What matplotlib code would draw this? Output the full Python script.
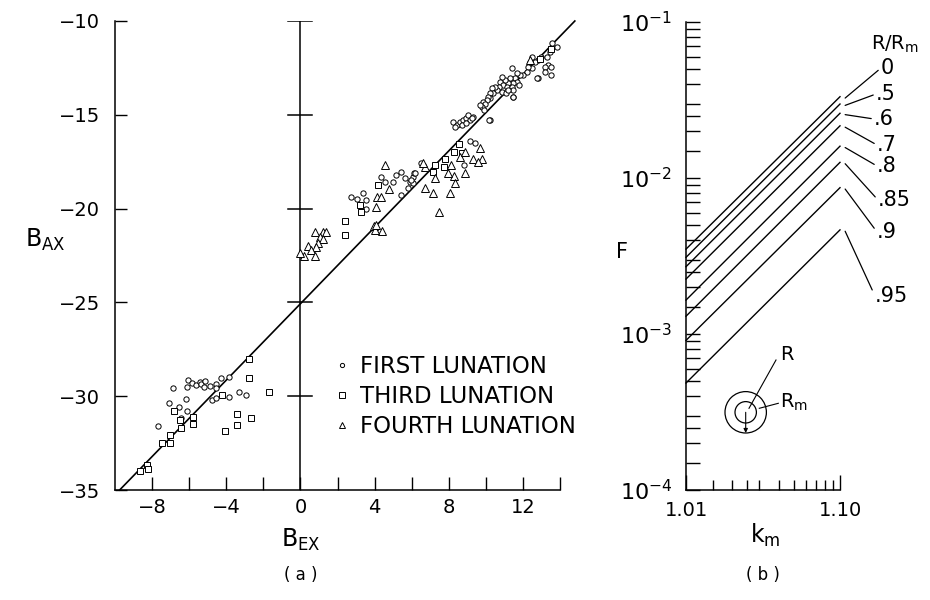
import numpy as np
import matplotlib
matplotlib.use("Agg")
import matplotlib.pyplot as plt
from matplotlib.ticker import FixedLocator, NullFormatter, FixedFormatter
from matplotlib.patches import Circle
from matplotlib.lines import Line2D

plt.rcParams['font.family'] = ['DejaVu Sans']
plt.rcParams['mathtext.fontset'] = 'dejavusans'

# ---------------- Panel (a) data ----------------
first_x = [-6.88, -6.05, -5.85, -6.09, -5.64, -5.44, -5.34, -5.15, -5.19, -4.86, -4.56, -4.29, -4.54,
           -4.76, -4.56, -3.84, -3.30, -2.94, -3.84, -6.18, -7.08, -6.54, -6.09, -6.45, -7.68,
           2.74, 3.04, 3.37, 3.55, 3.28, 3.55, 4.36, 4.58, 4.99, 5.17, 5.44, 5.62, 5.41, 5.89, 6.07,
           5.80, 6.12, 6.07, 5.98, 6.52, 6.16,
           9.14, 9.41, 8.83,
           8.24, 8.42, 8.59, 8.77, 8.95, 9.14, 9.32, 8.32, 8.72, 8.92, 9.05, 10.22, 9.23,
           14.36, 13.86, 13.55, 13.46, 13.28, 13.37, 13.50, 13.19, 13.50, 13.19, 12.96, 12.83, 12.65,
           12.47, 12.38, 12.47, 12.29, 12.20, 12.83, 11.39, 12.02, 11.84, 11.66, 11.57, 11.70, 11.48,
           11.30, 11.21, 11.03, 10.85, 10.79, 10.94, 11.12, 11.39, 11.48, 11.80, 10.72, 10.61, 10.85,
           11.08, 11.21, 11.48, 10.49, 10.31, 10.40, 10.22, 10.25, 10.12, 10.04, 9.85, 9.95, 9.77,
           9.68, 9.89, 10.18, 12.74, 11.44]
first_y = [-29.55, -29.14, -29.31, -29.53, -29.40, -29.26, -29.35, -29.17, -29.53, -29.46, -29.35, -29.05, -29.58,
           -30.20, -30.11, -30.03, -29.76, -29.94, -28.96, -30.15, -30.38, -30.59, -30.79, -31.15, -31.57,
           -19.36, -19.50, -19.18, -19.54, -19.98, -20.04, -18.30, -18.58, -18.60, -18.21, -18.03, -18.38, -19.28, -18.57, -18.30,
           -18.92, -18.08, -18.65, -18.48, -17.59, -18.12,
           -16.38, -16.52, -17.68,
           -15.37, -15.54, -15.37, -15.28, -15.19, -15.28, -15.10, -15.63, -15.54, -15.46, -15.00, -15.28, -15.19,
           -10.66, -11.37, -11.19, -11.63, -11.90, -12.35, -12.43, -12.43, -12.88, -12.70, -11.90, -12.08, -12.17,
           -11.90, -12.17, -12.52, -12.43, -12.70, -13.06, -12.52, -12.88, -12.88, -12.79, -13.06, -13.23, -13.32,
           -13.06, -13.32, -13.15, -12.97, -13.23, -13.41, -13.50, -13.50, -13.68, -13.41, -13.50, -13.68, -13.77,
           -13.86, -13.68, -14.04, -13.50, -13.59, -13.86, -13.86, -14.12, -14.04, -14.21, -14.34, -14.44, -14.57,
           -14.48, -14.74, -15.28, -13.06, -14.04]

third_x = [-2.76, -2.76, -1.68, -4.25, -6.81, -6.49, -5.78, -5.78, -6.45, -3.44, -2.66, -3.44, -4.05,
           -7.03, -7.03, -7.48, -8.25, -8.22, -8.65,
           3.19, 3.28, 4.18, 2.38, 2.38, 7.78, 8.27, 8.56, 7.24, 7.15, 7.73, 8.74,
           13.50, 12.90]
third_y = [-28.03, -29.05, -29.76, -29.95, -30.77, -31.27, -31.09, -31.48, -31.71, -30.95, -31.18, -31.54, -31.84,
           -32.08, -32.48, -32.48, -33.67, -33.90, -33.99,
           -19.81, -20.17, -18.74, -20.64, -21.41, -17.37, -16.97, -16.56, -17.68, -18.03, -17.77, -17.02,
           -11.50, -12.00]

fourth_x = [0.76, 1.21, 1.39, 1.08, 1.21, 0.97, 0.85, 0.40, 0.58, 0.76, 0.22, 0.00,
            4.54, 4.14, 4.32, 4.09, 4.77, 3.96, 4.40, 4.00, 4.05,
            9.68, 9.31, 9.80, 9.59, 8.86, 8.29, 8.36, 7.96, 8.11, 7.28, 6.74, 7.15, 8.05, 7.46,
            6.70, 6.61, 8.59, 8.86, 12.40]
fourth_y = [-21.23, -21.23, -21.23, -21.53, -21.64, -21.82, -22.03, -21.99, -22.21, -22.53, -22.53, -22.38,
            -17.68, -19.40, -19.40, -19.90, -18.97, -20.93, -21.19, -21.14, -20.88,
            -16.79, -17.37, -17.37, -17.50, -18.08, -18.26, -18.62, -18.08, -17.68, -18.38, -18.92, -19.15, -19.15, -20.17,
            -17.77, -17.59, -17.23, -16.97, -12.10]

fit_x = [-9.75, 14.8]
fit_y = [-35.0, -10.0]

series_labels = ["FIRST LUNATION", "THIRD LUNATION", "FOURTH LUNATION"]
ax_a_yticks = [-10, -15, -20, -25, -30, -35]
ax_a_xticklabels = [-8, -4, 0, 4, 8, 12]

# ---------------- Panel (b) data ----------------
ratio_labels = ["0", ".5", ".6", ".7", ".8", ".85", ".9", ".95"]
km_minus_1 = [0.01, 0.10]
F_left = [3.5e-3, 3.1e-3, 2.7e-3, 2.25e-3, 1.65e-3, 1.30e-3, 9.1e-4, 4.85e-4]
F_right = [3.32e-2, 2.98e-2, 2.60e-2, 2.16e-2, 1.60e-2, 1.26e-2, 8.67e-3, 4.65e-3]

W, H = 930, 600
fig = plt.figure(figsize=(W / 100, H / 100), dpi=100)

def fr(x0, y0, x1, y1):
    return [x0 / W, 1 - y1 / H, (x1 - x0) / W, (y1 - y0) / H]

# ================= Panel (a) =================
ax = fig.add_axes(fr(115, 21, 560, 490))
ax.set_xlim(-10, 14)
ax.set_ylim(-35, -10)
for s in ['top', 'right']:
    ax.spines[s].set_visible(False)
for s in ['left', 'bottom']:
    ax.spines[s].set_linewidth(1.1)

mk = dict(linestyle='none', markerfacecolor='white', markeredgecolor='black', markeredgewidth=0.7)
h1, = ax.plot(first_x, first_y, marker='o', markersize=3.8, label=series_labels[0], **mk)
h2, = ax.plot(third_x, third_y, marker='s', markersize=5.0, label=series_labels[1], **mk)
h3, = ax.plot(fourth_x, fourth_y, marker='^', markersize=5.8, label=series_labels[2], **mk)

ax.plot(fit_x, fit_y, color='black', lw=1.2, clip_on=False, zorder=1)

# central vertical axis at B_EX = 0 with crossing ticks
ax.plot([0, 0], [-35, -10], color='black', lw=1.1, zorder=1)
for yv in ax_a_yticks[:-1]:
    ax.plot([-0.65, 0.65], [yv, yv], color='black', lw=1.1, zorder=1)

ax.set_yticks(ax_a_yticks)
ax.set_yticklabels([f"\u2212{abs(v)}" for v in ax_a_yticks])
ax.set_xticks(np.arange(-8, 15, 2))
ax.set_xticklabels([(f"\u2212{abs(v)}" if v < 0 else str(v)) if v in ax_a_xticklabels else "" for v in np.arange(-8, 15, 2)])
ax.tick_params(axis='y', direction='in', length=8.5, width=1.0, labelsize=14, pad=11)
ax.tick_params(axis='x', direction='in', length=9.5, width=1.0, labelsize=14, pad=6)

leg = ax.legend(handles=[h1, h2, h3], loc='upper left', bbox_to_anchor=(0.47, 0.312),
                frameon=False, fontsize=16.5, handlelength=0.6, handletextpad=0.45,
                labelspacing=0.3, borderpad=0, markerscale=0.8)

fig.text(301 / W, 1 - 540 / H, r"B$_{\mathrm{EX}}$", fontsize=17, ha='center', va='center')
fig.text(45 / W, 1 - 240 / H, r"B$_{\mathrm{AX}}$", fontsize=17, ha='center', va='center')
fig.text(301 / W, 1 - 575 / H, "( a )", fontsize=12, ha='center', va='center')

# ================= Panel (b) =================
bx = fig.add_axes(fr(686, 22, 840, 490))
bx.set_xscale('log')
bx.set_yscale('log')
bx.set_xlim(0.01, 0.1)
bx.set_ylim(1e-4, 1e-1)
for s in ['top', 'right']:
    bx.spines[s].set_visible(False)
for s in ['left', 'bottom']:
    bx.spines[s].set_linewidth(1.1)

for fl, frt in zip(F_left, F_right):
    bx.plot(km_minus_1, [fl, frt], color='black', lw=1.0, clip_on=False)

bx.xaxis.set_major_locator(FixedLocator([0.01, 0.1]))
bx.xaxis.set_major_formatter(FixedFormatter(["1.01", "1.10"]))
bx.xaxis.set_minor_locator(FixedLocator([0.015, 0.02, 0.025, 0.03, 0.04, 0.05, 0.06, 0.07, 0.08, 0.09]))
bx.xaxis.set_minor_formatter(NullFormatter())
bx.yaxis.set_major_locator(FixedLocator([1e-4, 1e-3, 1e-2, 1e-1]))
bx.yaxis.set_major_formatter(FixedFormatter([r"$10^{-4}$", r"$10^{-3}$", r"$10^{-2}$", r"$10^{-1}$"]))
subs = [1.5, 2, 2.5, 3, 4, 5, 6, 7, 8, 9]
bx.yaxis.set_minor_locator(FixedLocator([s * 10.0 ** e for e in (-4, -3, -2) for s in subs]))
bx.yaxis.set_minor_formatter(NullFormatter())
bx.tick_params(axis='y', which='both', direction='in', length=10, width=1.0, labelsize=16, pad=10)
bx.tick_params(axis='x', which='major', direction='in', length=11, width=1.0, labelsize=14, pad=8)
bx.tick_params(axis='x', which='minor', direction='in', length=7, width=1.0)

# labels for R/Rm curves with leader lines
label_pos = [(881, 68), (876, 94), (874, 119), (877, 145), (877, 166), (878, 200), (877, 232), (875, 296)]
for lab, frt, (tx, ty) in zip(ratio_labels, F_right, label_pos):
    bx.annotate(lab, xy=(0.108, frt * 0.98), xycoords='data',
                xytext=(tx, H - ty), textcoords='figure pixels',
                fontsize=15, ha='left', va='center', annotation_clip=False,
                arrowprops=dict(arrowstyle='-', lw=0.9, color='black', shrinkA=0, shrinkB=0,
                                relpos=(0, 0.5)))
fig.text(895 / W, 1 - 44 / H, r"R/R$_{\mathrm{m}}$", fontsize=14, ha='center', va='center')

fig.text(622 / W, 1 - 252 / H, "F", fontsize=15, ha='center', va='center')
fig.text(765 / W, 1 - 535 / H, r"k$_{\mathrm{m}}$", fontsize=17, ha='center', va='center')
fig.text(763 / W, 1 - 575 / H, "( b )", fontsize=12, ha='center', va='center')

# inset circle sketch
cx, cy = 745.7, 412.3
ix = fig.add_axes(fr(cx - 30, cy - 30, cx + 30, cy + 30))
ix.set_xlim(-30, 30)
ix.set_ylim(-30, 30)
ix.set_aspect('equal')
ix.axis('off')
ix.add_patch(Circle((0, 0), 20.7, fill=False, lw=0.9, ec='black'))
ix.add_patch(Circle((0, 0), 10.7, fill=False, lw=0.9, ec='black'))
ix.annotate("", xy=(0, -20.7), xytext=(0, 0),
            arrowprops=dict(arrowstyle='-|>', lw=0.8, color='black', mutation_scale=6,
                            shrinkA=0, shrinkB=0))
fig.add_artist(Line2D([749 / W, 776 / W], [1 - 408.3 / H, 1 - 360 / H], color='black', lw=0.8))
fig.add_artist(Line2D([759.3 / W, 778.3 / W], [1 - 408.3 / H, 1 - 403.3 / H], color='black', lw=0.8))
fig.text(787 / W, 1 - 355 / H, "R", fontsize=14, ha='center', va='center')
fig.text(780 / W, 1 - 402 / H, r"R$_{\mathrm{m}}$", fontsize=14, ha='left', va='center')

fig.savefig("out.png", dpi=100, facecolor='white')
